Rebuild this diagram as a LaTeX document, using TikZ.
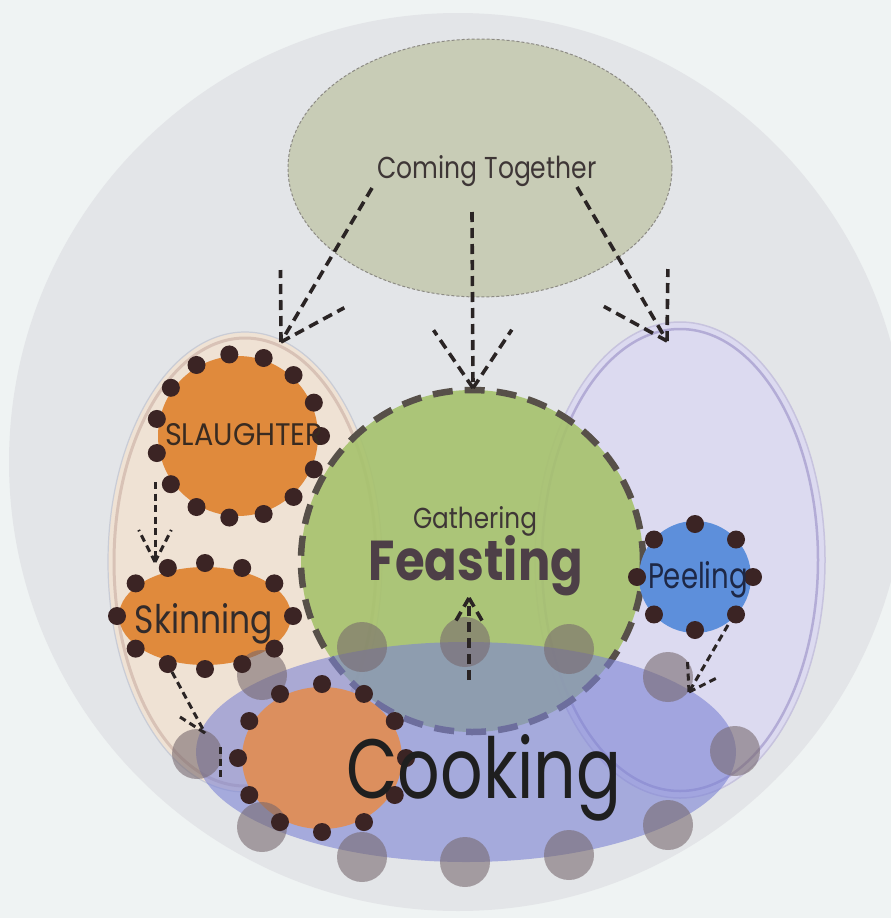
\documentclass[tikz,border=0pt]{standalone}
\usepackage{fontspec}
\setmainfont{Poppins}
\usepackage{graphicx}
\usetikzlibrary{calc}
\definecolor{bgc}{HTML}{EFF3F3}
\definecolor{bigc}{HTML}{E3E5E8}
\definecolor{ctc}{HTML}{C8CCB6}
\definecolor{ctb}{HTML}{8C8A84}
\definecolor{tanf}{HTML}{EFE2D4}
\definecolor{tanb}{HTML}{D8C2B6}
\definecolor{tano}{HTML}{C9CCD6}
\definecolor{lavf}{HTML}{DCDAF0}
\definecolor{lavb}{HTML}{B3ACD6}
\definecolor{lavo}{HTML}{C7C3DE}
\definecolor{feastf}{HTML}{A6C26C}
\definecolor{feastb}{HTML}{575049}
\definecolor{cookf}{HTML}{7C83D5}
\definecolor{orf}{HTML}{E08A3C}
\definecolor{orc}{HTML}{DC8F5E}
\definecolor{peelf}{HTML}{5D8FDB}
\definecolor{dotcol}{HTML}{3B2424}
\definecolor{grayc}{HTML}{76676C}
\definecolor{arrc}{HTML}{2A2424}
\definecolor{txt}{HTML}{3E3636}
\definecolor{feastt}{HTML}{4D3F47}
\begin{document}
\begin{tikzpicture}[x=1pt,y=-1pt,
  arr/.style={draw=arrc, line width=3.6pt, dash pattern=on 10pt off 6pt},
  arrs/.style={draw=arrc, line width=3pt, dash pattern=on 7pt off 4.5pt},
  dotst/.style={fill=dotcol},
  lbl/.style={anchor=base, inner sep=0pt, text=txt},
  gcirc/.style={fill=grayc, fill opacity=0.58}]
\useasboundingbox (0,0) rectangle (891,918);
\fill[bgc] (0,0) rectangle (891,918);
% big circle
\fill[bigc] (458,462) circle[radius=449pt];
% left and right ellipses
\coordinate (lc) at (245,562);
\coordinate (rc) at (680,560);
\fill[tanf] (lc) ellipse[x radius=137pt, y radius=230pt];
\draw[tano, line width=1.2pt] (lc) ellipse[x radius=137pt, y radius=230pt];
\draw[tanb, line width=3pt] (lc) ellipse[x radius=131pt, y radius=224pt];
\fill[lavf] (rc) ellipse[x radius=145pt, y radius=238pt];
\draw[lavo, line width=1.5pt] (rc) ellipse[x radius=145pt, y radius=238pt];
\draw[lavb, line width=2.5pt] (rc) ellipse[x radius=138pt, y radius=231pt];
% coming together
\coordinate (ctc) at (480,168);
\fill[ctc] (ctc) ellipse[x radius=192pt, y radius=129pt];
\draw[ctb, line width=1pt, dash pattern=on 3pt off 2pt] (ctc) ellipse[x radius=192pt, y radius=129pt];
% feasting
\coordinate (fc) at (472,561);
\fill[feastf, fill opacity=0.9] (fc) circle[radius=171pt];
\draw[feastb, line width=6.5pt, dash pattern=on 20pt off 12pt] (fc) circle[radius=171pt];
% cooking
\coordinate (cc) at (466,752);
\fill[cookf, fill opacity=0.6] (cc) ellipse[x radius=270pt, y radius=110pt];
% orange shapes
\coordinate (sl) at (238,436);
\coordinate (sk) at (205,616);
\coordinate (co) at (322,758);
\coordinate (pe) at (695,577);
\fill[orf] (sl) ellipse[x radius=80pt, y radius=80pt];
\fill[orf] (sk) ellipse[x radius=86pt, y radius=49pt];
\fill[orc] (co) ellipse[x radius=80pt, y radius=71pt];
\fill[peelf] (pe) circle[radius=56pt];
% gray circles
\foreach \p in {(262,675),(362,647),(465,642),(569,649),(668,677),(735,751),(668,825),(569,855),(465,862),(362,857),(262,827),(197,754)}
  \fill[gcirc] \p circle[radius=25pt];
% dots
\foreach \a in {0,1,...,14}
  \fill[dotst] ($(sl)+({-96+24*\a}:83 and 82)$) circle[radius=9pt];
\foreach \a in {0,38,65,90,115,142,180,-142,-115,-90,-65,-38}
  \fill[dotst] ($(sk)+(\a:88 and 53)$) circle[radius=9pt];
\foreach \a in {0,30,...,330}
  \fill[dotst] ($(co)+(\a:84 and 74)$) circle[radius=9pt];
\foreach \a in {0,45,...,315}
  \fill[dotst] ($(pe)+(\a:58 and 53)$) circle[radius=9pt];
% texts
\node[lbl, text=txt] (tct) at (487,178) {\resizebox{219pt}{23pt}{Coming Together}};
\node[lbl, text=txt] (tga) at (475,528) {\resizebox{124pt}{22pt}{Gathering}};
\node[lbl, text=feastt] (tfe) at (476,580) {\resizebox{214pt}{45pt}{\bfseries Feasting}};
\node[lbl, text=black!88] (tco) at (484,798) {\resizebox{275pt}{64pt}{Cooking}};
\node[lbl, text=txt!80!orf!60!black] (tsl) at (244,445) {\resizebox{158pt}{22pt}{SLAUGHTER}};
\node[lbl, text=txt!80!black] (tsk) at (204,633) {\resizebox{138pt}{30pt}{Skinning}};
\node[lbl, text={rgb,255:red,30;green,40;blue,70}] (tpe) at (698,588) {\resizebox{100pt}{27pt}{Peeling}};
% arrows: coming together -> slaughter
\coordinate (a1s) at (372,188); \coordinate (a1t) at (281,342);
\draw[arr] (a1s) -- (a1t);
\draw[arr] (a1t) -- ($(a1t)!72pt!31:(a1s)$);
\draw[arr] (a1t) -- ($(a1t)!72pt!-31:(a1s)$);
% coming together -> feasting
\coordinate (a2s) at (472,212); \coordinate (a2t) at (473,388);
\draw[arr] (a2s) -- (a2t);
\draw[arr] (a2t) -- ($(a2t)!70pt!34:(a2s)$);
\draw[arr] (a2t) -- ($(a2t)!70pt!-34:(a2s)$);
% coming together -> right ellipse
\coordinate (a3s) at (577,187); \coordinate (a3t) at (667,341);
\draw[arr] (a3s) -- (a3t);
\draw[arr] (a3t) -- ($(a3t)!72pt!31:(a3s)$);
\draw[arr] (a3t) -- ($(a3t)!72pt!-31:(a3s)$);
% slaughter -> skinning
\coordinate (a4s) at (155,482); \coordinate (a4t) at (155,562);
\draw[arrs] (a4s) -- (a4t);
\draw[arrs] (a4t) -- ($(a4t)!36pt!27:(a4s)$);
\draw[arrs] (a4t) -- ($(a4t)!36pt!-27:(a4s)$);
% skinning -> cooking
\coordinate (a5s) at (172,672); \coordinate (a5t) at (205,733);
\coordinate (a5h) at (180,717);
\coordinate (a5v1) at (220,747); \coordinate (a5v2) at (220,779);
\draw[arrs] (a5s) -- (a5t);
\draw[arrs] (a5t) -- (a5h);
\draw[arrs] (a5v1) -- (a5v2);
% cooking -> feasting (up)
\coordinate (a6s) at (469,680); \coordinate (a6t) at (469,598);
\draw[arr] (a6s) -- (a6t);
\draw[arr] (a6t) -- ($(a6t)!32pt!30:(a6s)$);
\draw[arr] (a6t) -- ($(a6t)!32pt!-30:(a6s)$);
% peeling -> cooking
\coordinate (a7s) at (728,625); \coordinate (a7t) at (689,692);
\draw[arrs] (a7s) -- (a7t);
\draw[arrs] (a7t) -- ($(a7t)!31pt!33:(a7s)$);
\draw[arrs] (a7t) -- ($(a7t)!31pt!-33:(a7s)$);
\end{tikzpicture}
\end{document}
